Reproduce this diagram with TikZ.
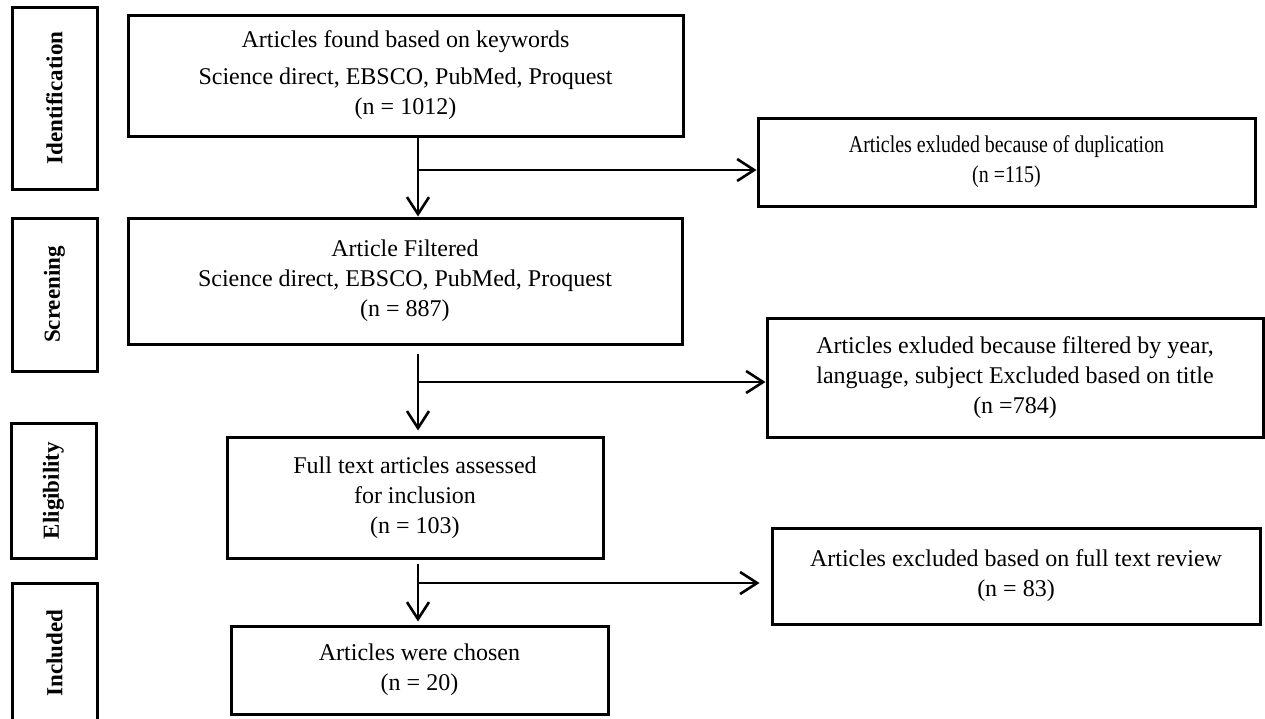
\documentclass[tikz,border=0pt]{standalone}
\usepackage{fontspec}
\setmainfont{Liberation Serif}
\newfontfamily\condfont{Liberation Serif}[FakeStretch=0.83]
\usetikzlibrary{arrows.meta}
\begin{document}
\begin{tikzpicture}[x=1pt,y=-1pt,
  box/.style={draw, line width=3pt, align=center, inner sep=0pt,
    font=\fontsize{24}{30}\selectfont},
  condbox/.style={box, font=\condfont\fontsize{24}{30}\selectfont},
  stagebox/.style={draw, line width=3pt, rotate=90, inner sep=0pt,
    minimum height=85pt, font=\bfseries\fontsize{23}{28}\selectfont},
  arr/.style={line width=2.6pt, -{Straight Barb[length=17pt,width=22pt]}}]
\useasboundingbox (0,0) rectangle (1265,718);
% stage labels
\node[stagebox, minimum width=182pt] (id)  at (54.5,98)    {Identification};
\node[stagebox, minimum width=153pt] (scr) at (54.5,294.5) {Screening};
\node[stagebox, minimum width=135pt] (eli) at (53.5,490.5) {Eligibility};
\node[stagebox, minimum width=140pt] (inc) at (54.5,653)   {Included};
% main column
\node[box, minimum width=555pt, minimum height=121pt] (b1) at (405.5,75.5)
  {Articles found based on keywords\\[7pt]Science direct, EBSCO, PubMed, Proquest\\(n = 1012)};
\node[box, minimum width=554pt, minimum height=126pt] (b2) at (405,281)
  {Article Filtered\\Science direct, EBSCO, PubMed, Proquest\\(n = 887)};
\node[box, minimum width=376pt, minimum height=121pt] (b3) at (415,497.5)
  {Full text articles assessed\\for inclusion\\(n = 103)};
\node[box, minimum width=377pt, minimum height=88pt] (b4) at (419.5,670)
  {Articles were chosen\\(n = 20)};
% exclusion boxes
\node[condbox, minimum width=497pt, minimum height=88pt] (e1) at (1006.5,162)
  {Articles exluded because of duplication\\(n =115)};
\node[box, minimum width=496pt, minimum height=119pt] (e2) at (1015,377.5)
  {Articles exluded because filtered by year,\\language, subject Excluded based on title\\(n =784)};
\node[box, minimum width=488pt, minimum height=96pt] (e3) at (1016,576)
  {Articles excluded based on full text review\\(n = 83)};
% connectors
\coordinate (sp) at (418,0);
\coordinate (h1) at (418,170);
\coordinate (h2) at (418,382);
\coordinate (h3) at (418,583);
\draw[arr] (b1.south -| sp) -- (b2.north -| sp);
\draw[arr] (h1) -- (h1 -| e1.west);
\draw[arr, shorten <=8pt, shorten >=5pt] (b2.south -| sp) -- (b3.north -| sp);
\draw[arr] (h2) -- (h2 -| e2.west);
\draw[arr, shorten <=4pt, shorten >=3pt] (b3.south -| sp) -- (b4.north -| sp);
\draw[arr, shorten >=11pt] (h3) -- (h3 -| e3.west);
\end{tikzpicture}
\end{document}
